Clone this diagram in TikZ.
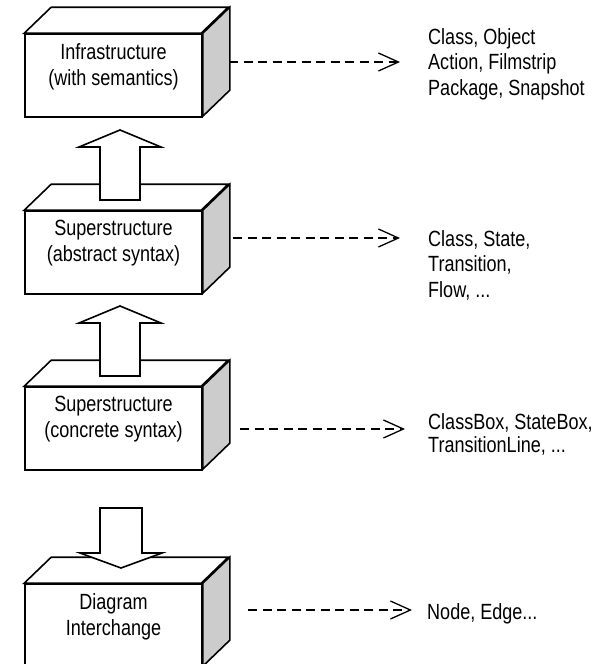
\documentclass[tikz,border=0pt]{standalone}
\usepackage{fontspec}
\setmainfont[FakeStretch=0.82]{Liberation Sans}
\usepackage{tikz}
\usetikzlibrary{arrows.meta,positioning}
\definecolor{sidegray}{RGB}{204,204,204}
\newcommand{\drawthick}{\draw[line width=1.6pt,line join=miter]}
\newcommand{\listfont}[1]{\fontsize{22}{#1}\selectfont}
\newcommand{\drawcube}[3]{
    \node[face] (#1) at (113.5,#2+41.5) {};
    \drawthick[fill=white] (#1.north west)--++(27,-26)--++(177,0)--++(-27,26)--cycle;
    \drawthick[fill=sidegray] (#1.north east)--++(27,-26)--++(0,83)--++(-27,26)--cycle;
    \node[facetext, below=10pt of #1.north] (#1t) {#3};
}
\newcommand{\blockup}[1]{\drawthick[fill=white] (#1)--++(41,17)--++(-21,0)--++(0,53)--++(-40,0)--++(0,-53)--++(-21,0)--cycle;}
\newcommand{\blockdown}[1]{\drawthick[fill=white] (#1)--++(41,-15)--++(-20,0)--++(0,-45)--++(-42,0)--++(0,45)--++(-20,0)--cycle;}
\tikzset{
    face/.style={draw, line width=1.6pt, fill=white, minimum width=177pt, minimum height=83pt, inner sep=0pt},
    facetext/.style={align=center, inner sep=0pt, font=\listfont{26}},
    listtext/.style={align=left, inner sep=0pt, anchor=north west, font=\listfont{25.5}},
    dasharrow/.style={line width=1.3pt, dash pattern=on 9pt off 5.5pt, -{Straight Barb[length=20pt,width=18pt,line width=1.3pt]}}
}
\begin{document}
\begin{tikzpicture}[x=1pt,y=-1pt]
\clip (0,0) rectangle (614,664);
\drawcube{infra}{34}{Infrastructure\\(with semantics)}
\drawcube{absyn}{211}{Superstructure\\(abstract syntax)}
\drawcube{consyn}{387}{Superstructure\\(concrete syntax)}
\drawcube{diagint}{584}{Diagram\\Interchange}
\coordinate (upA) at (120,130);
\coordinate (upB) at (120,306);
\coordinate (downC) at (121,568);
\blockup{upA}\blockup{upB}\blockdown{downC}
\node[listtext] (infraL) at (428,28) {Class, Object\\Action, Filmstrip\\Package, Snapshot};
\node[listtext] (absynL) at (428,230) {Class, State,\\Transition,\\Flow, ...};
\node[listtext, font=\listfont{23.5}] (consynL) at (428,413) {ClassBox, StateBox,\\TransitionLine, ...};
\node[listtext] (diagintL) at (427,603) {Node, Edge...};
\coordinate (infraS) at (229,62);
\coordinate (absynS) at (233,238);
\coordinate (consynS) at (240,429);
\coordinate (diagintS) at (248,610);
\draw[dasharrow, shorten >=28pt] (infraS)--(infraS -| infraL.west);
\draw[dasharrow, shorten >=28pt] (absynS)--(absynS -| absynL.west);
\draw[dasharrow, shorten >=23pt] (consynS)--(consynS -| consynL.west);
\draw[dasharrow, shorten >=15pt] (diagintS)--(diagintS -| diagintL.west);
\end{tikzpicture}
\end{document}
